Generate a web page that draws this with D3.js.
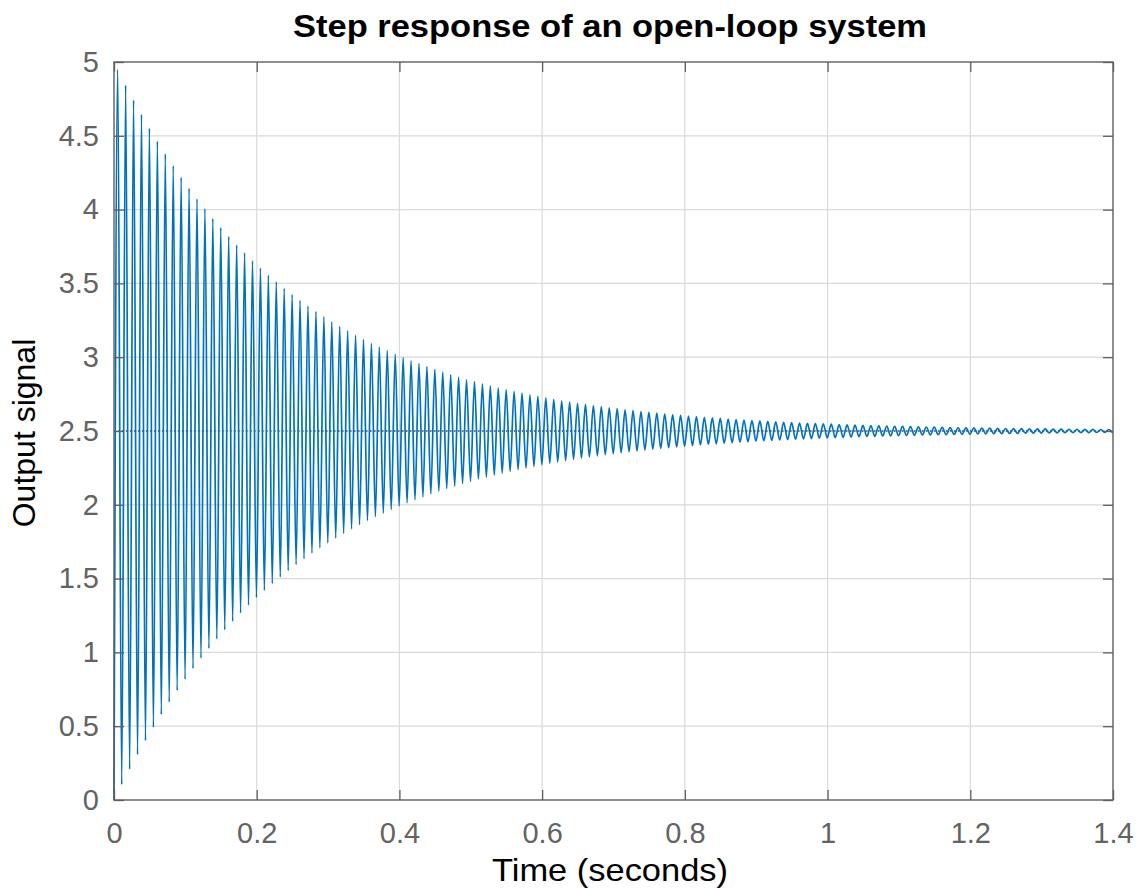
<!DOCTYPE html>
<html>
<head>
<meta charset="utf-8">
<script src="https://cdn.jsdelivr.net/npm/d3@7"></script>
<style>
  body { margin: 0; background: #fff; }
  svg { display: block; font-family: "Liberation Sans", Arial, sans-serif; }
  .tick text { fill: #636363; font-size: 29px; }
  .domain { display: none; }
</style>
</head>
<body>
<div class="chart"></div>
<script>
var margin = {top: 62, right: 25, bottom: 88, left: 114};
var width = 1138 - margin.left - margin.right;
var height = 888 - margin.top - margin.bottom;

var xTicks = [0, 0.2, 0.4, 0.6, 0.8, 1, 1.2, 1.4];
var xTickLabels = ['0', '0.2', '0.4', '0.6', '0.8', '1', '1.2', '1.4'];
var yTicks = [0, 0.5, 1, 1.5, 2, 2.5, 3, 3.5, 4, 4.5, 5];
var yTickLabels = ['0', '0.5', '1', '1.5', '2', '2.5', '3', '3.5', '4', '4.5', '5'];

var steadyValue = 2.5;

// times (s) of the successive peaks and troughs
var extremaTimes = [
  0.0052, 0.0108, 0.0163, 0.0219, 0.0274, 0.0330, 0.0385, 0.0441, 0.0496, 0.0552,
  0.0608, 0.0663, 0.0719, 0.0774, 0.0830, 0.0885, 0.0941, 0.0996, 0.1052, 0.1107,
  0.1163, 0.1219, 0.1274, 0.1330, 0.1385, 0.1441, 0.1496, 0.1552, 0.1607, 0.1663,
  0.1719, 0.1774, 0.1830, 0.1885, 0.1941, 0.1996, 0.2052, 0.2107, 0.2163, 0.2218,
  0.2274, 0.2330, 0.2385, 0.2441, 0.2496, 0.2552, 0.2607, 0.2663, 0.2718, 0.2774,
  0.2830, 0.2885, 0.2941, 0.2996, 0.3052, 0.3107, 0.3163, 0.3218, 0.3274, 0.3329,
  0.3385, 0.3441, 0.3496, 0.3552, 0.3607, 0.3663, 0.3718, 0.3774, 0.3829, 0.3885,
  0.3941, 0.3996, 0.4052, 0.4107, 0.4163, 0.4218, 0.4274, 0.4329, 0.4385, 0.4440,
  0.4496, 0.4552, 0.4607, 0.4663, 0.4718, 0.4774, 0.4829, 0.4885, 0.4940, 0.4996,
  0.5052, 0.5107, 0.5163, 0.5218, 0.5274, 0.5329, 0.5385, 0.5440, 0.5496, 0.5551,
  0.5607, 0.5663, 0.5718, 0.5774, 0.5829, 0.5885, 0.5940, 0.5996, 0.6051, 0.6107,
  0.6163, 0.6218, 0.6274, 0.6329, 0.6385, 0.6440, 0.6496, 0.6551, 0.6607, 0.6662,
  0.6718, 0.6774, 0.6829, 0.6885, 0.6940, 0.6996, 0.7051, 0.7107, 0.7162, 0.7218,
  0.7274, 0.7329, 0.7385, 0.7440, 0.7496, 0.7551, 0.7607, 0.7662, 0.7718, 0.7773,
  0.7829, 0.7885, 0.7940, 0.7996, 0.8051, 0.8107, 0.8162, 0.8218, 0.8273, 0.8329,
  0.8385, 0.8440, 0.8496, 0.8551, 0.8607, 0.8662, 0.8718, 0.8773, 0.8829, 0.8884,
  0.8940, 0.8996, 0.9051, 0.9107, 0.9162, 0.9218, 0.9273, 0.9329, 0.9384, 0.9440,
  0.9496, 0.9551, 0.9607, 0.9662, 0.9718, 0.9773, 0.9829, 0.9884, 0.9940, 0.9995,
  1.0051, 1.0107, 1.0162, 1.0218, 1.0273, 1.0329, 1.0384, 1.0440, 1.0495, 1.0551,
  1.0607, 1.0662, 1.0718, 1.0773, 1.0829, 1.0884, 1.0940, 1.0995, 1.1051, 1.1106,
  1.1162, 1.1218, 1.1273, 1.1329, 1.1384, 1.1440, 1.1495, 1.1551, 1.1606, 1.1662,
  1.1718, 1.1773, 1.1829, 1.1884, 1.1940, 1.1995, 1.2051, 1.2106, 1.2162, 1.2217,
  1.2273, 1.2329, 1.2384, 1.2440, 1.2495, 1.2551, 1.2606, 1.2662, 1.2717, 1.2773,
  1.2829, 1.2884, 1.2940, 1.2995, 1.3051, 1.3106, 1.3162, 1.3217, 1.3273, 1.3328,
  1.3384, 1.3440, 1.3495, 1.3551, 1.3606, 1.3662, 1.3717, 1.3773, 1.3828, 1.3884,
  1.3940, 1.3995
];

// output value at each of those peaks / troughs
var extremaValues = [
  4.950, 0.104, 4.844, 0.207, 4.742, 0.307, 4.645, 0.402, 4.552, 0.493,
  4.464, 0.579, 4.378, 0.663, 4.297, 0.742, 4.219, 0.818, 4.145, 0.891,
  4.074, 0.961, 4.006, 1.027, 3.940, 1.091, 3.878, 1.152, 3.818, 1.211,
  3.761, 1.266, 3.707, 1.320, 3.654, 1.371, 3.604, 1.420, 3.556, 1.467,
  3.511, 1.511, 3.467, 1.554, 3.425, 1.595, 3.385, 1.634, 3.347, 1.672,
  3.310, 1.708, 3.275, 1.742, 3.241, 1.775, 3.209, 1.806, 3.179, 1.836,
  3.149, 1.865, 3.121, 1.893, 3.094, 1.919, 3.068, 1.944, 3.044, 1.968,
  3.020, 1.991, 2.998, 2.013, 2.976, 2.034, 2.956, 2.054, 2.936, 2.074,
  2.917, 2.092, 2.899, 2.110, 2.882, 2.127, 2.865, 2.143, 2.849, 2.158,
  2.834, 2.173, 2.820, 2.187, 2.806, 2.201, 2.793, 2.214, 2.780, 2.226,
  2.768, 2.238, 2.756, 2.249, 2.745, 2.260, 2.735, 2.271, 2.724, 2.281,
  2.715, 2.290, 2.705, 2.299, 2.696, 2.308, 2.688, 2.316, 2.680, 2.324,
  2.672, 2.332, 2.665, 2.339, 2.657, 2.346, 2.651, 2.353, 2.644, 2.359,
  2.638, 2.365, 2.632, 2.371, 2.626, 2.377, 2.621, 2.382, 2.615, 2.387,
  2.610, 2.392, 2.606, 2.397, 2.601, 2.401, 2.597, 2.405, 2.593, 2.409,
  2.589, 2.413, 2.585, 2.417, 2.581, 2.421, 2.578, 2.424, 2.574, 2.427,
  2.571, 2.431, 2.568, 2.434, 2.565, 2.436, 2.562, 2.439, 2.559, 2.442,
  2.557, 2.444, 2.554, 2.447, 2.552, 2.449, 2.550, 2.451, 2.548, 2.453,
  2.546, 2.455, 2.544, 2.457, 2.542, 2.459, 2.540, 2.461, 2.538, 2.463,
  2.537, 2.464, 2.535, 2.466, 2.533, 2.467, 2.532, 2.469, 2.531, 2.470,
  2.529, 2.471, 2.528, 2.473, 2.527, 2.474, 2.526, 2.475, 2.525, 2.476,
  2.523, 2.477, 2.522, 2.478, 2.521, 2.479, 2.521, 2.480, 2.520, 2.481,
  2.519, 2.482, 2.518, 2.482, 2.517, 2.483, 2.516, 2.484, 2.516, 2.485,
  2.515, 2.485, 2.514, 2.486, 2.514, 2.487, 2.513, 2.487, 2.513, 2.488,
  2.512, 2.488, 2.512, 2.489, 2.511, 2.489, 2.511, 2.490, 2.510, 2.490,
  2.510, 2.491
];

// the response starts from rest and ends just after the last trough
var startPoint = [0, 0];
var endPoint = [1.4, 2.491];

var points = [startPoint]
    .concat(extremaTimes.map((t, i) => [t, extremaValues[i]]))
    .concat([endPoint]);

var xScale = d3.scaleLinear().domain([0, 1.4]).range([0, width]);
var yScale = d3.scaleLinear().domain([0, 5]).range([height, 0]);

var svg = d3.select('div.chart').append('svg')
    .attr('width', width + margin.left + margin.right)
    .attr('height', height + margin.top + margin.bottom);

var g = svg.append('g')
    .attr('transform', 'translate(' + margin.left + ',' + margin.top + ')');

// grid
g.append('g')
  .selectAll('line')
  .data(xTicks.slice(1, -1)).enter().append('line')
    .attr('x1', d => xScale(d)).attr('x2', d => xScale(d))
    .attr('y1', 0).attr('y2', height)
    .attr('stroke', '#dadada').attr('stroke-width', 1.2);
g.append('g')
  .selectAll('line')
  .data(yTicks.slice(1, -1)).enter().append('line')
    .attr('y1', d => yScale(d)).attr('y2', d => yScale(d))
    .attr('x1', 0).attr('x2', width)
    .attr('stroke', '#dadada').attr('stroke-width', 1.2);

// steady-state reference
g.append('line')
    .attr('x1', 0).attr('x2', width)
    .attr('y1', yScale(steadyValue)).attr('y2', yScale(steadyValue))
    .attr('stroke', '#000')
    .attr('stroke-width', 1)
    .attr('stroke-dasharray', '1.5,2.5');

// response
var line = d3.line()
    .x(d => xScale(d[0]))
    .y(d => yScale(d[1]))
    .curve(d3.curveMonotoneX);

g.append('path')
    .datum(points)
    .attr('fill', 'none')
    .attr('stroke', '#0072BD')
    .attr('stroke-width', 1.7)
    .attr('d', line);

// axes (ticks pointing inward)
var axisColor = '#5f5f5f';
var tickLen = 10;

g.append('g')
    .attr('transform', 'translate(0,' + height + ')')
    .call(d3.axisBottom(xScale)
          .tickValues(xTicks)
          .tickFormat((d, i) => xTickLabels[i])
          .tickSizeInner(-tickLen)
          .tickSizeOuter(0)
          .tickPadding(22));
g.append('g')
    .call(d3.axisTop(xScale)
          .tickValues(xTicks)
          .tickFormat('')
          .tickSizeInner(-tickLen)
          .tickSizeOuter(0));
g.append('g')
    .call(d3.axisLeft(yScale)
          .tickValues(yTicks)
          .tickFormat((d, i) => yTickLabels[i])
          .tickSizeInner(-tickLen)
          .tickSizeOuter(0)
          .tickPadding(15));
g.append('g')
    .attr('transform', 'translate(' + width + ',0)')
    .call(d3.axisRight(yScale)
          .tickValues(yTicks)
          .tickFormat('')
          .tickSizeInner(-tickLen)
          .tickSizeOuter(0));

g.selectAll('.tick line')
    .attr('stroke', axisColor)
    .attr('stroke-width', 1.3);
g.selectAll('.tick text')
    .attr('font-family', '"Liberation Sans", Arial, sans-serif');

g.append('rect')
    .attr('width', width)
    .attr('height', height)
    .attr('fill', 'none')
    .attr('stroke', axisColor)
    .attr('stroke-width', 1.4);

// labels
svg.append('text')
    .attr('x', 610)
    .attr('y', 37)
    .attr('text-anchor', 'middle')
    .attr('font-size', 32)
    .attr('font-weight', 'bold')
    .attr('fill', '#000')
    .attr('textLength', 634)
    .attr('lengthAdjust', 'spacingAndGlyphs')
    .text('Step response of an open-loop system');

svg.append('text')
    .attr('x', 610)
    .attr('y', 881)
    .attr('text-anchor', 'middle')
    .attr('font-size', 32)
    .attr('fill', '#000')
    .attr('textLength', 236)
    .attr('lengthAdjust', 'spacingAndGlyphs')
    .text('Time (seconds)');

svg.append('text')
    .attr('transform', 'translate(35,' + (margin.top + height / 2 + 2) + ') rotate(-90)')
    .attr('text-anchor', 'middle')
    .attr('font-size', 32)
    .attr('fill', '#000')
    .text('Output signal');
</script>
</body>
</html>
